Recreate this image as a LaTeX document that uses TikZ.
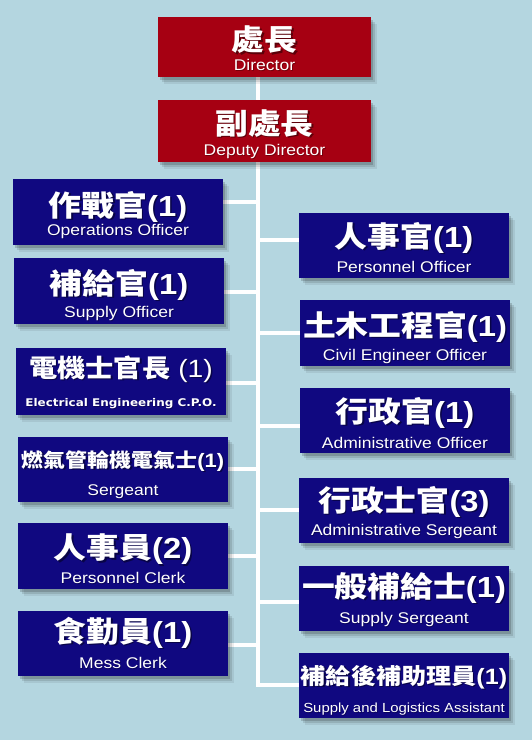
\documentclass[tikz,border=0pt]{standalone}
\usepackage{graphicx}
\usepackage{fontspec}
\setmainfont{Liberation Sans}
\newfontfamily\zhfont{Noto Sans CJK TC}
\newfontfamily\lsfam{Liberation Sans}
\newfontfamily\dvfam{DejaVu Sans}
\usetikzlibrary{fit,shadows}
\definecolor{bgblue}{HTML}{B4D6E0}
\definecolor{redbox}{HTML}{A60012}
\definecolor{bluebox}{HTML}{100880}
\pgfdeclarelayer{back}
\pgfdeclarelayer{lines}
\pgfsetlayers{back,lines,main}
\newcommand\zhl[3]{{\fontsize{#1}{#1}\selectfont\zhfont\bfseries #2\lsfam #3}}
\newcommand\enl[2]{{\fontsize{#1}{#1}\selectfont #2}}
\newcommand\orgbox[6]{\node[#2, fit={(#3,#4) (#5,#6)}] (#1) {};}
\newcommand\orglabels[5]{%
  \node[zhshade] (#1-zs) at ([xshift=1.5pt,yshift={-(#4+1.5)*1pt}]#1.north) {\scalebox{1.13}[1]{#2}};
  \node[zhlabel] (#1-zh) at ([yshift={-#4*1pt}]#1.north) {\scalebox{1.13}[1]{#2}};
  \node[enshade] (#1-es) at ([xshift=0.8pt,yshift={(#5-0.8)*1pt}]#1.south) {\scalebox{1.13}[1]{#3}};
  \node[enlabel] (#1-en) at ([yshift={#5*1pt}]#1.south) {\scalebox{1.13}[1]{#3}};}
\begin{document}
\begin{tikzpicture}[x=1pt,y=-1pt,
  softshadow/.style={
    drop shadow={shadow xshift=2pt,shadow yshift=-3pt,opacity=0.16,fill=black},
    drop shadow={shadow xshift=4pt,shadow yshift=-5pt,opacity=0.11,fill=black},
    drop shadow={shadow xshift=6pt,shadow yshift=-7pt,opacity=0.07,fill=black}},
  redunit/.style={fill=redbox,draw=none,inner sep=0pt,softshadow},
  blueunit/.style={fill=bluebox,draw=none,inner sep=0pt,softshadow},
  link/.style={draw=white,line width=4pt},
  zhlabel/.style={text=white,inner sep=0pt},
  zhshade/.style={text=black,opacity=0.45,inner sep=0pt},
  enlabel/.style={text=white,inner sep=0pt,anchor=base},
  enshade/.style={text=black,opacity=0.3,inner sep=0pt,anchor=base}]
\begin{pgfonlayer}{back}
\fill[bgblue] (0,0) rectangle (532,740);
\end{pgfonlayer}
\useasboundingbox (0,0) rectangle (532,740);
% boxes
\orgbox{dir}{redunit}{158}{17}{371}{77}
\orgbox{dep}{redunit}{158}{100}{371}{162}
\orgbox{ops}{blueunit}{13}{179}{223}{245}
\orgbox{sup}{blueunit}{14}{258}{224}{324}
\orgbox{ele}{blueunit}{16}{348}{226}{415}
\orgbox{sgt}{blueunit}{18}{437}{228}{502}
\orgbox{pcl}{blueunit}{18}{523}{228}{589}
\orgbox{mes}{blueunit}{18}{611}{228}{676}
\orgbox{pof}{blueunit}{299}{213}{509}{278}
\orgbox{civ}{blueunit}{300}{300}{510}{366}
\orgbox{adm}{blueunit}{300}{388}{510}{453}
\orgbox{ads}{blueunit}{299}{478}{509}{543}
\orgbox{sus}{blueunit}{299}{566}{509}{631}
\orgbox{sla}{blueunit}{299}{653}{509}{718}
% labels
\orglabels{dir}{\zhl{29}{處長}{}}{\enl{15.5}{Director}}{23}{7}
\orglabels{dep}{\zhl{29}{副處長}{}}{\enl{15.5}{Deputy Director}}{23.5}{7}
\orglabels{ops}{\zhl{29}{作戰官}{(1)}}{\enl{15.5}{Operations Officer}}{28}{10}
\orglabels{sup}{\zhl{29}{補給官}{(1)}}{\enl{15.5}{Supply Officer}}{27}{7}
\orglabels{ele}{{\fontsize{25}{25}\selectfont\zhfont\bfseries 電機士官長\lsfam\mdseries\ (1)}}{{\fontsize{10.6}{10.6}\selectfont\dvfam\bfseries Electrical Engineering C.P.O.}}{21}{9}
\orglabels{sgt}{\zhl{19.4}{燃氣管輪機電氣士}{(1)}}{\enl{15.5}{Sergeant}}{24}{7}
\orglabels{pcl}{\zhl{29}{人事員}{(2)}}{\enl{15.5}{Personnel Clerk}}{26.5}{6}
\orglabels{mes}{\zhl{29}{食勤員}{(1)}}{\enl{15.5}{Mess Clerk}}{22}{8}
\orglabels{pof}{\zhl{29}{人事官}{(1)}}{\enl{15.5}{Personnel Officer}}{25}{6}
\orglabels{civ}{\zhl{29}{土木工程官}{(1)}}{\enl{15.5}{Civil Engineer Officer}}{27}{6}
\orglabels{adm}{\zhl{29}{行政官}{(1)}}{\enl{15.5}{Administrative Officer}}{25}{5}
\orglabels{ads}{\zhl{29}{行政士官}{(3)}}{\enl{15.5}{Administrative Sergeant}}{24}{8}
\orglabels{sus}{\zhl{29}{一般補給士}{(1)}}{\enl{15.5}{Supply Sergeant}}{22}{8}
\orglabels{sla}{\zhl{22.2}{補給後補助理員}{(1)}}{\enl{13.2}{Supply and Logistics Assistant}}{24}{6}
% connectors
\coordinate (tx) at (258,0);
\coordinate (c-ops) at (258,202);
\coordinate (c-sup) at (258,292);
\coordinate (c-ele) at (258,383);
\coordinate (c-sgt) at (258,469);
\coordinate (c-pcl) at (258,556);
\coordinate (c-mes) at (258,645);
\coordinate (c-pof) at (258,240);
\coordinate (c-civ) at (258,333);
\coordinate (c-adm) at (258,426);
\coordinate (c-ads) at (258,510);
\coordinate (c-sus) at (258,602);
\coordinate (c-sla) at (258,685);
\begin{pgfonlayer}{lines}
\draw[link] (dir.south -| tx) -- (c-sla) -- (c-sla -| sla.west);
\foreach \n in {ops,sup,ele,sgt,pcl,mes}{\draw[link] (c-\n -| \n.east) -- (c-\n);}
\foreach \n in {pof,civ,adm,ads,sus}{\draw[link] (c-\n) -- (c-\n -| \n.west);}
\end{pgfonlayer}
\end{tikzpicture}
\end{document}
